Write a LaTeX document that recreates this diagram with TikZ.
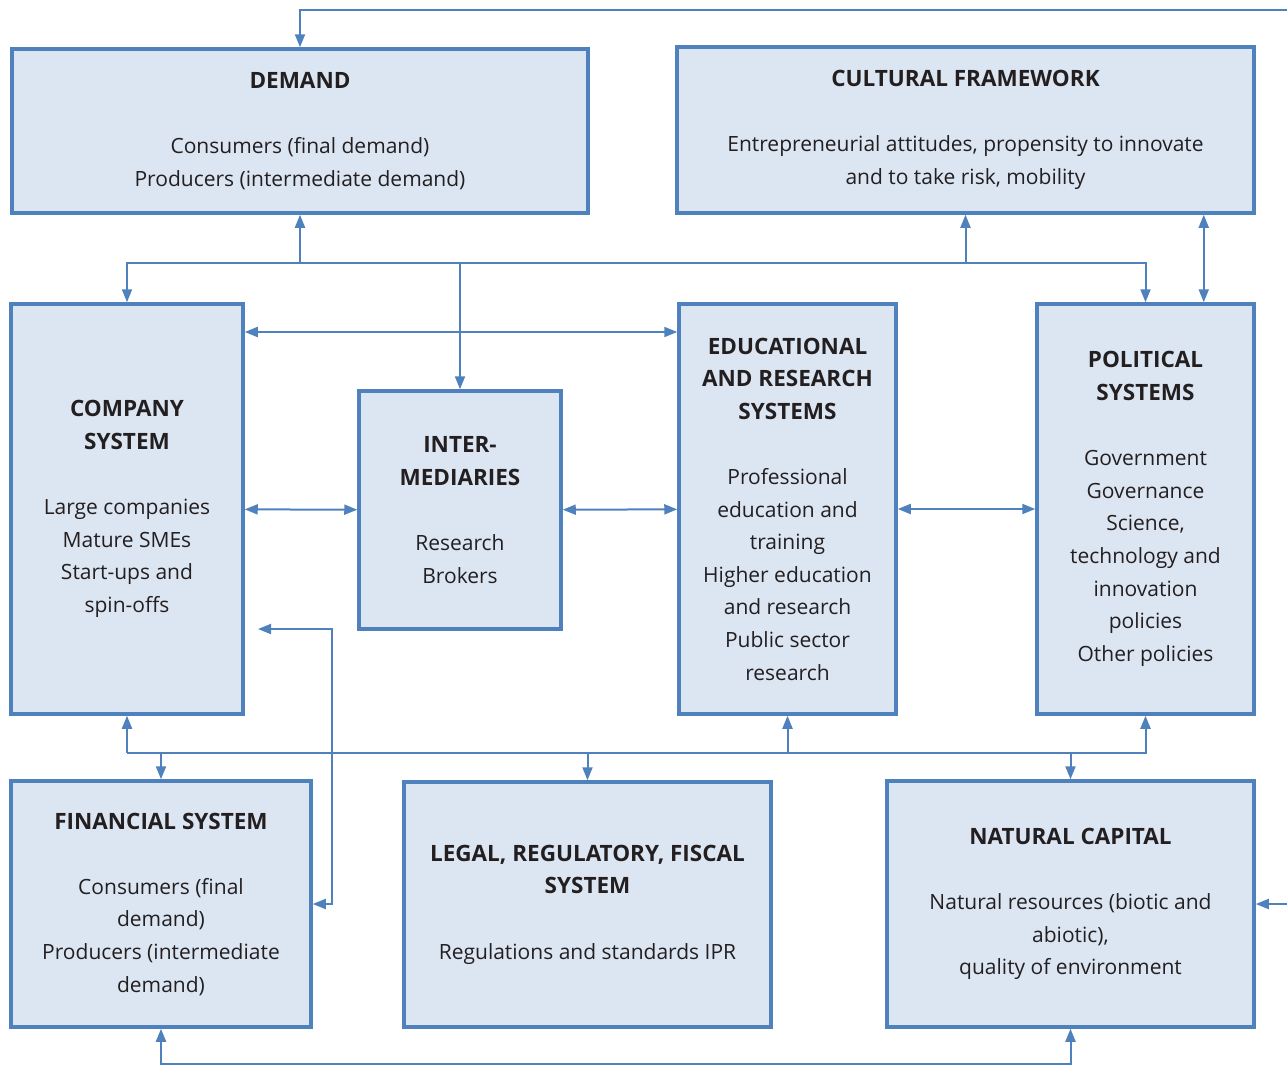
\documentclass[tikz,border=0pt]{standalone}
\usepackage{fontspec}
\setmainfont{Open Sans}
\usetikzlibrary{arrows.meta}

\definecolor{boxline}{HTML}{4F81BD}
\definecolor{boxfill}{HTML}{DCE6F2}
\definecolor{boxtext}{HTML}{231F20}
\newcommand{\boxtitle}[1]{{\fontsize{22.5}{32.6}\selectfont\bfseries #1}}

\begin{document}
\begin{tikzpicture}[x=1pt, y=-1pt,
    box/.style={draw=boxline, fill=boxfill, line width=3.5pt, inner sep=0pt,
                align=center, text=boxtext, font=\fontsize{21}{32.6}\selectfont},
    link/.style={draw=boxline, line width=2pt, -{Triangle[length=13pt,width=10pt]}},
    twoway/.style={link, {Triangle[length=13pt,width=10pt]}-{Triangle[length=13pt,width=10pt]}}]

    \useasboundingbox (0,0) rectangle (1287,1066);

    % boxes
    \node[box, minimum width=576, minimum height=164] (demand) at (300,131)
        {\boxtitle{DEMAND}\\[32.6pt] Consumers (final demand)\\ Producers (intermediate demand)};
    \node[box, minimum width=577, minimum height=166] (cultural) at (965.5,130)
        {\boxtitle{CULTURAL FRAMEWORK}\\[32.6pt] Entrepreneurial attitudes, propensity to innovate\\ and to take risk, mobility};
    \node[box, minimum width=232, minimum height=410] (company) at (127,509)
        {\boxtitle{COMPANY}\\ \boxtitle{SYSTEM}\\[32.6pt] Large companies\\ Mature SMEs\\ Start-ups and\\ spin-offs};
    \node[box, minimum width=202, minimum height=238] (inter) at (460,510)
        {\boxtitle{INTER-}\\ \boxtitle{MEDIARIES}\\[32.6pt] Research\\ Brokers};
    \node[box, minimum width=217, minimum height=410] (edu) at (787.5,509)
        {\boxtitle{EDUCATIONAL}\\ \boxtitle{AND RESEARCH}\\ \boxtitle{SYSTEMS}\\[32.6pt] Professional\\ education and\\ training\\ Higher education\\ and research\\ Public sector\\ research};
    \node[box, minimum width=217, minimum height=410] (political) at (1145.5,509)
        {\boxtitle{POLITICAL}\\ \boxtitle{SYSTEMS}\\[32.6pt] Government\\ Governance\\ Science,\\ technology and\\ innovation\\ policies\\ Other policies};
    \node[box, minimum width=300, minimum height=246] (financial) at (161,904)
        {\boxtitle{FINANCIAL SYSTEM}\\[32.6pt] Consumers (final\\ demand)\\ Producers (intermediate\\ demand)};
    \node[box, minimum width=367, minimum height=245] (legal) at (587.5,904.5)
        {\boxtitle{LEGAL, REGULATORY, FISCAL}\\ \boxtitle{SYSTEM}\\[32.6pt] Regulations and standards IPR};
    \node[box, minimum width=367, minimum height=246] (natural) at (1070.5,904)
        {\boxtitle{NATURAL CAPITAL}\\[32.6pt] Natural resources (biotic and\\ abiotic),\\ quality of environment};

    % junctions and free ends
    \coordinate (bustop) at (0,263);
    \coordinate (busmid) at (0,332);
    \coordinate (buslow) at (0,753);
    \coordinate (busbot) at (0,1064);
    \coordinate (topin) at (1287,10);
    \coordinate (rightin) at (1287,904);
    \coordinate (elbow) at (332,629);
    \coordinate (cotip) at (258,629);

    % upper bus
    \draw[link] (demand.south |- bustop) -- (demand.south);
    \draw[link] (demand.south |- bustop) -| (company.north);
    \draw[link] (demand.south |- bustop) -| (political.north);
    \draw[link] (inter.north |- bustop) -- (inter.north);
    \draw[link] (cultural.south |- bustop) -- (cultural.south);
    \draw[twoway] ([xshift=-52pt]cultural.south east) -- ([xshift=-52pt]political.north east);

    % middle row
    \draw[twoway] (company.east |- busmid) -- (edu.west |- busmid);
    \draw[twoway] (company) -- (inter);
    \draw[twoway] (inter) -- (edu);
    \draw[twoway] (edu) -- (political);
    \draw[twoway] (financial.east) -| (elbow) -- (cotip);

    % lower bus
    \draw[link] (company.south |- buslow) -- (company.south);
    \draw[link] (company.south |- buslow) -| (political.south);
    \draw[link] (financial.north |- buslow) -- (financial.north);
    \draw[link] (legal.north |- buslow) -- (legal.north);
    \draw[link] (edu.south |- buslow) -- (edu.south);
    \draw[link] (natural.north |- buslow) -- (natural.north);

    % outer lines
    \draw[link] (topin) -| (demand.north);
    \draw[link] (rightin) -- (natural.east);
    \draw[twoway] (financial.south) -- (financial.south |- busbot) -| (natural.south);
\end{tikzpicture}
\end{document}
